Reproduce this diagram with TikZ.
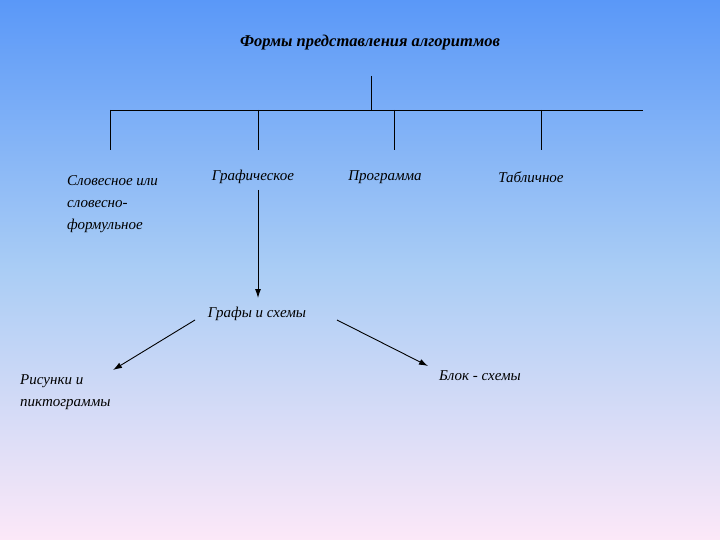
\documentclass[tikz,border=0pt]{standalone}
\usepackage{fontspec}
\setmainfont{Liberation Serif}
\begin{document}
\begin{tikzpicture}[x=1pt,y=-1pt,
  lbl/.style={font=\itshape\fontsize{15}{22}\selectfont, text=black, inner sep=0pt},
  ln/.style={line width=0.9pt, black},
  arr/.style={ln, -{Latex[length=9pt,width=6pt]}}]
\usetikzlibrary{arrows.meta}
\definecolor{topc}{RGB}{90,152,248}
\definecolor{midc}{RGB}{170,205,245}
\definecolor{botc}{RGB}{252,232,248}
\shade[top color=topc, bottom color=botc, middle color=midc] (0,0) rectangle (720,540);
\useasboundingbox (0,0) rectangle (720,540);
\node[lbl, font=\bfseries\itshape\fontsize{16.5}{20}\selectfont] (title) at (370,43) {Формы представления алгоритмов};
\coordinate (top) at (371,76);
\coordinate (mid) at (371,110);
\coordinate (hl) at (110,110);
\coordinate (hr) at (643,110);
\draw[ln] (top) -- (mid);
\draw[ln] (hl) -- (hr);
\foreach \n/\x in {a/110,b/258,c/394,d/541}{
  \coordinate (t\n) at (\x,110);
  \coordinate (e\n) at (\x,150);
  \draw[ln] (t\n) -- (e\n);
}
\node[lbl, anchor=north west, align=left] (slov) at (67,175) {Словесное или\\словесно-\\формульное};
\node[lbl] (graf) at (253,177) {Графическое};
\node[lbl] (prog) at (385,177) {Программа};
\node[lbl] (tabl) at (531,177) {Табличное};
\node[lbl] (grs) at (257,314) {Графы и схемы};
\node[lbl, anchor=north west, align=left] (ris) at (20,374) {Рисунки и\\пиктограммы};
\node[lbl] (blok) at (480,376) {Блок - схемы};
\coordinate (g1) at (258,190);
\coordinate (g2) at (258,298);
\draw[arr] (g1) -- (g2);
\coordinate (l1) at (195,320);
\coordinate (l2) at (113,370);
\draw[arr] (l1) -- (l2);
\coordinate (r1) at (337,320);
\coordinate (r2) at (428,366);
\draw[arr] (r1) -- (r2);
\end{tikzpicture}
\end{document}
